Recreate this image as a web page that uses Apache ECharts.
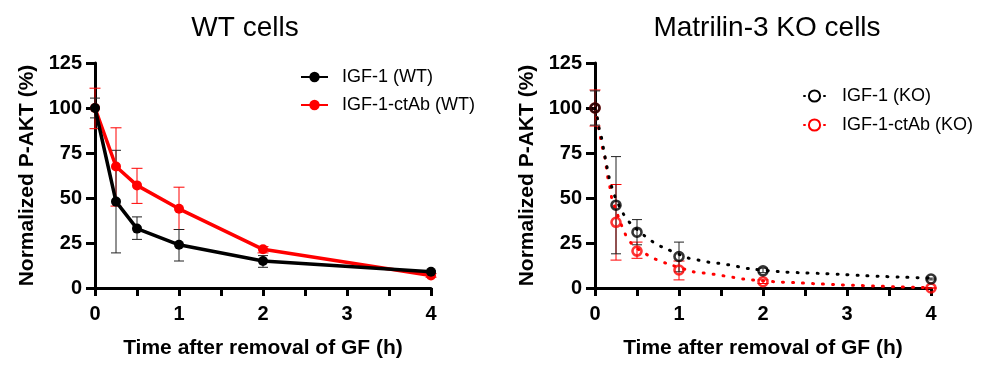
<!DOCTYPE html>
<html>
<head>
<meta charset="utf-8">
<script src="https://cdn.jsdelivr.net/npm/echarts@6/dist/echarts.min.js"></script>
<style>
  html, body { margin: 0; padding: 0; background: #fff; }
  #chart { width: 1000px; height: 376px; }
</style>
</head>
<body>
<div id="chart"></div>
<script>
const FONT = '"Liberation Sans", Arial, sans-serif'

// sampling times (h)
const timeH = [0, 0.25, 0.5, 1, 2, 4]

// WT cells: mean and error bar ends (%)
const wtIgf = [100, 48, 33, 24, 15, 9]
const wtIgfLow = [94.5, 19.5, 27, 15, 11.5, 8.5]
const wtIgfHigh = [105.5, 76.5, 39.5, 32.5, 18, 9.5]
const wtAb = [100, 67.5, 57, 44, 21.5, 7]
const wtAbLow = [88.5, 45.5, 47, 32.5, 19.5, 6]
const wtAbHigh = [111, 89, 66.5, 56, 23, 8]

// KO cells: mean and error bar ends (%)
const koIgf = [100, 46, 31, 17.5, 9.5, 5]
const koIgfLow = [90.5, 19, 24, 9, 8.5, 4.5]
const koIgfHigh = [109.5, 73, 38, 25.5, 11, 5.5]
const koAb = [100, 36.5, 20.5, 10, 3.5, 0]
const koAbLow = [90, 15.5, 16.5, 4.5, 2.5, 0]
const koAbHigh = [110, 57.5, 25.5, 15, 4.5, 0]

// KO fitted curves
const koIgfFitT = [0, 0.03, 0.05, 0.08, 0.11, 0.14, 0.17, 0.2, 0.24, 0.34, 0.42, 0.59, 0.69, 0.79, 1.12, 1.24, 1.36, 1.48, 1.6, 1.72, 1.84, 2.19, 2.43, 2.67, 2.91, 3.15, 3.38, 3.62, 3.86, 4]
const koIgfFitV = [100, 94, 88.5, 83, 75, 68, 61, 56, 50.5, 41, 36, 29, 25.6, 23, 16.5, 15.4, 14.3, 13.7, 12.8, 11.7, 10.7, 9.1, 8.5, 8.1, 7.6, 7, 6.5, 6.1, 5.7, 5.5]
const koAbFitT = [0, 0.09, 0.12, 0.15, 0.18, 0.2, 0.36, 0.46, 0.62, 0.72, 0.85, 1.18, 1.3, 1.42, 1.54, 1.65, 1.77, 2.13, 2.37, 2.61, 2.85, 3.08, 3.32, 3.56, 3.8, 4]
const koAbFitV = [100, 77.5, 72, 62, 55.5, 50, 30, 23.5, 18.5, 16, 13.7, 8.9, 8.3, 7.6, 6.7, 5.9, 5, 3.5, 3, 2.4, 1.9, 1.5, 1.1, 0.7, 0.4, 0.2]

const xTicks = [0, 1, 2, 3, 4]

const RED = '#ff0000'
const BLACK = '#000000'

const pairs = (xs, ys) => xs.map((x, i) => [x, ys[i]])
const bars = (lo, hi) => timeH.map((t, i) => [t, lo[i], hi[i]])

// 误差线
const errorBar = (color, half) => (params, api) => {
  const x = api.value(0)
  const top = api.coord([x, api.value(2)])
  const bot = api.coord([x, api.value(1)])
  const style = { stroke: color, lineWidth: 1 }
  return {
    type: 'group',
    children: [
      { type: 'line', shape: { x1: top[0], y1: top[1], x2: bot[0], y2: bot[1] }, style },
      { type: 'line', shape: { x1: top[0] - half, y1: top[1], x2: top[0] + half, y2: top[1] }, style },
      { type: 'line', shape: { x1: bot[0] - half, y1: bot[1], x2: bot[0] + half, y2: bot[1] }, style }
    ]
  }
}

const makeX = (idx) => ({
  gridIndex: idx,
  type: 'value',
  min: 0,
  max: 4,
  interval: 0.5,
  name: 'Time after removal of GF (h)',
  nameLocation: 'middle',
  nameGap: 50,
  nameTextStyle: { fontFamily: FONT, fontSize: 21, fontWeight: 'bold', color: '#000' },
  axisLine: { lineStyle: { color: '#000', width: 3 } },
  axisTick: { length: 8, lineStyle: { color: '#000', width: 3 } },
  axisLabel: {
    margin: 16,
    fontFamily: FONT,
    fontSize: 20,
    fontWeight: 'bold',
    color: '#000',
    formatter: (v) => (xTicks.includes(v) ? String(v) : '')
  },
  splitLine: { show: false }
})

const makeY = (idx) => ({
  gridIndex: idx,
  type: 'value',
  min: 0,
  max: 125,
  interval: 25,
  name: 'Normalized P-AKT (%)',
  nameLocation: 'middle',
  nameGap: 57,
  nameTextStyle: { fontFamily: FONT, fontSize: 21, fontWeight: 'bold', color: '#000' },
  axisLine: { show: true, lineStyle: { color: '#000', width: 3 } },
  axisTick: { show: true, length: 9, lineStyle: { color: '#000', width: 3 } },
  axisLabel: { margin: 13, fontFamily: FONT, fontSize: 20, fontWeight: 'bold', color: '#000' },
  splitLine: { show: false }
})

const legendText = (pad) => ({ fontFamily: FONT, fontSize: 18, color: '#000', padding: [0, 0, 0, pad] })

const chart = echarts.init(document.getElementById('chart'))
chart.setOption({
  animation: false,
  backgroundColor: '#fff',
  title: [
    { text: 'WT cells', left: 240, top: 9, textAlign: 'center',
      textStyle: { fontFamily: FONT, fontSize: 28, fontWeight: 'normal', color: '#000' } },
    { text: 'Matrilin-3 KO cells', left: 762, top: 9, textAlign: 'center',
      textStyle: { fontFamily: FONT, fontSize: 28, fontWeight: 'normal', color: '#000' } }
  ],
  legend: [
    {
      orient: 'vertical', left: 300, top: 68, padding: 0, itemWidth: 27, itemHeight: 13, itemGap: 10,
      data: ['IGF-1 (WT)', 'IGF-1-ctAb (WT)'], textStyle: legendText(9)
    },
    {
      orient: 'vertical', left: 803, top: 87, padding: 0, itemWidth: 21, itemHeight: 14, itemGap: 11,
      data: ['IGF-1 (KO)', 'IGF-1-ctAb (KO)'], textStyle: legendText(12)
    }
  ],
  grid: [
    { left: 95, top: 63, width: 336, height: 225 },
    { left: 595, top: 63, width: 336, height: 225 }
  ],
  xAxis: [makeX(0), makeX(1)],
  yAxis: [makeY(0), makeY(1)],
  series: [
    // WT
    { type: 'custom', xAxisIndex: 0, yAxisIndex: 0, renderItem: errorBar(RED, 5.5),
      encode: { x: 0, y: [1, 2] }, data: bars(wtAbLow, wtAbHigh), z: 1 },
    { type: 'custom', xAxisIndex: 0, yAxisIndex: 0, renderItem: errorBar('#222', 5),
      encode: { x: 0, y: [1, 2] }, data: bars(wtIgfLow, wtIgfHigh), z: 1 },
    { name: 'IGF-1-ctAb (WT)', type: 'line', xAxisIndex: 0, yAxisIndex: 0,
      data: pairs(timeH, wtAb), symbol: 'circle', symbolSize: 10,
      itemStyle: { color: RED }, lineStyle: { color: RED, width: 3.5 }, z: 2 },
    { name: 'IGF-1 (WT)', type: 'line', xAxisIndex: 0, yAxisIndex: 0,
      data: pairs(timeH, wtIgf), symbol: 'circle', symbolSize: 10,
      itemStyle: { color: BLACK }, lineStyle: { color: BLACK, width: 3.5 }, z: 3 },

    // KO
    { type: 'custom', xAxisIndex: 1, yAxisIndex: 1, renderItem: errorBar(RED, 5.5),
      encode: { x: 0, y: [1, 2] }, data: bars(koAbLow, koAbHigh), z: 1 },
    { type: 'custom', xAxisIndex: 1, yAxisIndex: 1, renderItem: errorBar('#222', 5),
      encode: { x: 0, y: [1, 2] }, data: bars(koIgfLow, koIgfHigh), z: 1 },
    { name: 'IGF-1-ctAb (KO)', type: 'line', xAxisIndex: 1, yAxisIndex: 1,
      data: pairs(koAbFitT, koAbFitV), smooth: 0.3, showSymbol: false, symbol: 'emptyCircle',
      itemStyle: { color: RED }, lineStyle: { color: RED, width: 3, type: [1, 9], cap: 'round' }, z: 2 },
    { name: 'IGF-1 (KO)', type: 'line', xAxisIndex: 1, yAxisIndex: 1,
      data: pairs(koIgfFitT, koIgfFitV), smooth: 0.3, showSymbol: false, symbol: 'emptyCircle',
      itemStyle: { color: BLACK }, lineStyle: { color: BLACK, width: 3, type: [1, 9], cap: 'round' }, z: 2 },
    { type: 'scatter', xAxisIndex: 1, yAxisIndex: 1, data: pairs(timeH, koAb),
      symbol: 'circle', symbolSize: 9,
      itemStyle: { color: 'rgba(0,0,0,0)', borderColor: RED, borderWidth: 2.6 }, z: 3 },
    { type: 'scatter', xAxisIndex: 1, yAxisIndex: 1, data: pairs(timeH, koIgf),
      symbol: 'circle', symbolSize: 9,
      itemStyle: { color: 'rgba(0,0,0,0)', borderColor: BLACK, borderWidth: 2.6 }, z: 4 }
  ]
})
</script>
</body>
</html>
